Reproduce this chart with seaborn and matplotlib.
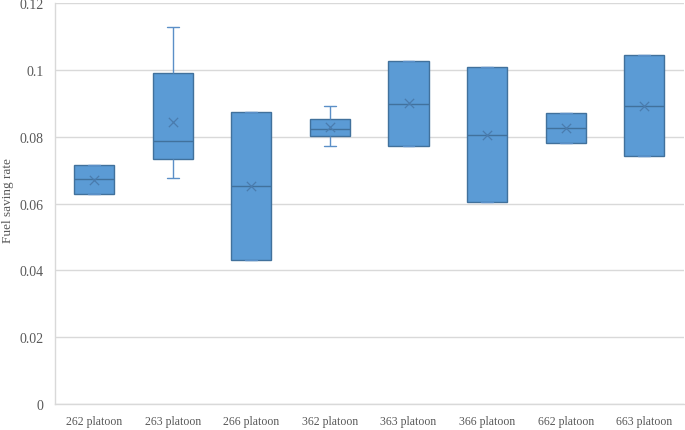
import numpy as np
import pandas as pd
import matplotlib
matplotlib.use("Agg")
import matplotlib.pyplot as plt
import seaborn as sns

categories = ["262 platoon", "263 platoon", "266 platoon", "362 platoon",
              "363 platoon", "366 platoon", "662 platoon", "663 platoon"]
whisker_low = [0.0628, 0.0676, 0.0431, 0.0772, 0.0772, 0.0605, 0.0782, 0.0742]
q1 = [0.0628, 0.0733, 0.0431, 0.0802, 0.0772, 0.0605, 0.0782, 0.0742]
median = [0.0673, 0.0786, 0.0653, 0.0824, 0.0899, 0.0806, 0.0827, 0.0893]
q3 = [0.0715, 0.0989, 0.0873, 0.0854, 0.1026, 0.1007, 0.0872, 0.1044]
whisker_high = [0.0715, 0.1128, 0.0873, 0.0892, 0.1026, 0.1007, 0.0872, 0.1044]
means = [0.0671, 0.0844, 0.0652, 0.0828, 0.0900, 0.0806, 0.0827, 0.0892]
y_ticks = [0, 0.02, 0.04, 0.06, 0.08, 0.1, 0.12]
y_tick_labels = ["0", "0.02", "0.04", "0.06", "0.08", "0.1", "0.12"]

rows = []
for i, c in enumerate(categories):
    for v in (whisker_low[i], q1[i], median[i], q3[i], whisker_high[i]):
        rows.append({"platoon": c, "rate": v})
df = pd.DataFrame(rows)

sns.set_style("white")
plt.rcParams["font.family"] = ["Liberation Serif", "DejaVu Serif"]

fig = plt.figure(figsize=(6.85, 4.31), dpi=100)
ax = fig.add_axes([0.080, 0.060, 0.918, 0.931])

fill = "#5B9BD5"
edge = "#41719C"
sns.boxplot(data=df, x="platoon", y="rate", order=categories, color=fill,
            saturation=1, width=0.51, linecolor=edge, linewidth=1.0,
            whis=np.inf, ax=ax, capwidths=0.15,
            whiskerprops={"color": "#5B8FC7"}, capprops={"color": "#5B8FC7"})
sns.scatterplot(x=categories, y=means, marker="x", color="#4A7CAE", s=45,
                linewidth=0.9, ax=ax, zorder=5)

ax.set_ylim(0, 0.12)
ax.set_xlim(-0.5, 7.5)
ax.set_yticks(y_ticks)
ax.set_yticklabels(y_tick_labels)
ax.yaxis.grid(True, color="#D9D9D9", linewidth=1)
ax.set_axisbelow(True)
for s in ("top", "right"):
    ax.spines[s].set_visible(False)
for s in ("left", "bottom"):
    ax.spines[s].set_color("#D9D9D9")
    ax.spines[s].set_linewidth(1)
ax.tick_params(axis="both", length=0, colors="#595959")
ax.tick_params(axis="y", labelsize=10, pad=8)
ax.tick_params(axis="x", labelsize=8.5, pad=8)
ax.set_xlabel("")
ax.set_ylabel("")
fig.text(8 / 685, 1 - 201 / 431, "Fuel saving rate", rotation=90,
         ha="center", va="center", fontsize=9.5, color="#595959")

fig.savefig("out.png", dpi=100)
